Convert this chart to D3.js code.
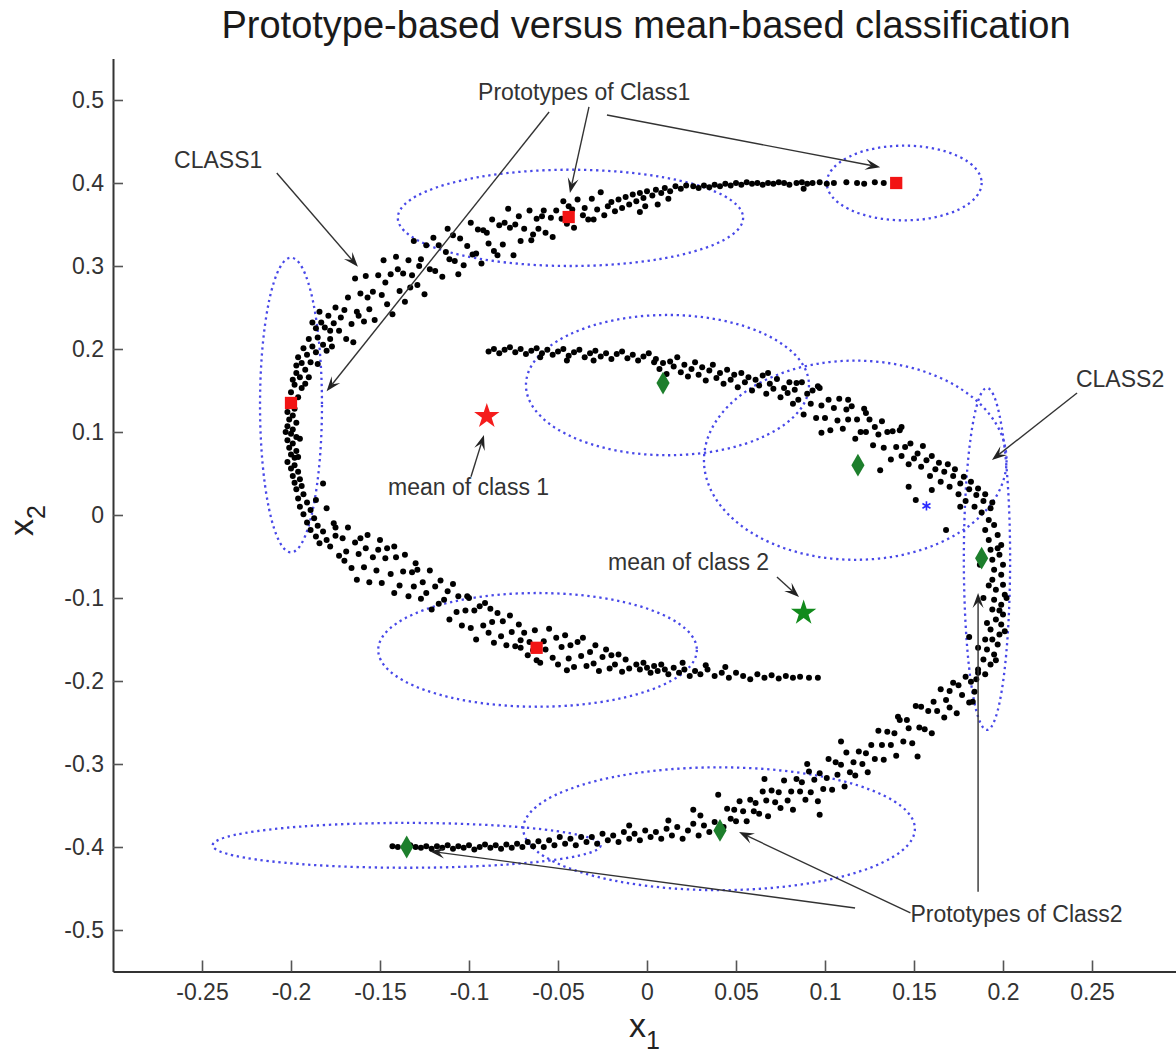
<!DOCTYPE html>
<html lang="en">
<head>
  <meta charset="UTF-8">
  <title>Prototype-based versus mean-based classification</title>
  <script src="https://d3js.org/d3.v7.min.js"></script>
  <style>
    html, body {
      margin: 0;
      padding: 0;
      background: #ffffff;
      font-family: 'Liberation Sans', Arial, sans-serif;
    }
    svg { display: block; }
    .tick text { font-size: 23px; fill: #333; }
    .note { font-size: 23px; fill: #333; }
  </style>
</head>
<body>
<svg id="chart" width="1176" height="1055"></svg>
<script>
  // axis ticks
  const xTicks = [-0.25, -0.2, -0.15, -0.1, -0.05, 0, 0.05, 0.1, 0.15, 0.2, 0.25];
  const xTickLabels = ["-0.25", "-0.2", "-0.15", "-0.1", "-0.05", "0", "0.05", "0.1", "0.15", "0.2", "0.25"];
  const yTicks = [-0.5, -0.4, -0.3, -0.2, -0.1, 0, 0.1, 0.2, 0.3, 0.4, 0.5];
  const yTickLabels = ["-0.5", "-0.4", "-0.3", "-0.2", "-0.1", "0", "0.1", "0.2", "0.3", "0.4", "0.5"];

  // CLASS1 samples
  const class1 = [
    [0.133,0.400],[0.128,0.401],[0.122,0.399],[0.118,0.400],[0.112,0.401],[0.105,0.400],[0.101,0.399],[0.097,0.401],
    [0.093,0.400],[0.090,0.399],[0.087,0.401],[0.084,0.400],[0.080,0.398],[0.077,0.400],[0.074,0.401],[0.071,0.399],
    [0.068,0.400],[0.065,0.398],[0.062,0.400],[0.059,0.399],[0.056,0.401],[0.053,0.398],[0.050,0.400],[0.047,0.397],
    [0.044,0.399],[0.041,0.396],[0.038,0.398],[0.035,0.395],[0.032,0.397],[0.029,0.394],[0.026,0.396],[0.088,0.393],
    [0.022,0.397],[0.019,0.393],[0.016,0.396],[0.013,0.390],[0.010,0.394],[0.008,0.388],[0.005,0.392],[0.003,0.385],
    [0.000,0.390],[-0.002,0.382],[-0.004,0.388],[-0.006,0.378],[-0.008,0.386],[-0.010,0.374],[-0.012,0.383],[-0.014,0.370],
    [-0.016,0.380],[-0.018,0.366],[-0.020,0.377],[-0.022,0.372],[-0.024,0.361],[-0.026,0.389],[-0.028,0.368],[-0.030,0.356],
    [-0.004,0.365],[0.006,0.374],[0.012,0.381],[-0.001,0.372],
    [-0.031,0.381],[-0.033,0.356],[-0.035,0.370],[-0.036,0.361],[-0.039,0.380],[-0.041,0.346],[-0.042,0.368],[-0.045,0.351],
    [-0.047,0.378],[-0.048,0.357],[-0.051,0.367],[-0.053,0.335],[-0.054,0.358],[-0.057,0.340],[-0.058,0.367],[-0.061,0.345],
    [-0.062,0.357],[-0.065,0.331],[-0.066,0.367],[-0.069,0.345],[-0.044,0.372],[-0.059,0.360],[-0.064,0.338],
    [-0.071,0.330],[-0.072,0.360],[-0.075,0.313],[-0.077,0.346],[-0.078,0.369],[-0.081,0.326],[-0.083,0.349],[-0.084,0.313],
    [-0.087,0.356],[-0.089,0.327],[-0.090,0.340],[-0.093,0.303],[-0.095,0.344],[-0.096,0.315],[-0.099,0.352],[-0.101,0.324],
    [-0.103,0.301],[-0.105,0.333],[-0.106,0.290],[-0.109,0.337],[-0.111,0.308],[-0.113,0.317],[-0.115,0.287],[-0.117,0.325],
    [-0.119,0.294],[-0.120,0.334],[-0.074,0.350],[-0.092,0.343],[-0.108,0.306],[-0.080,0.352],[-0.098,0.314],[-0.086,0.318],
    [-0.112,0.345],
    [-0.122,0.296],[-0.124,0.325],[-0.125,0.266],[-0.127,0.308],[-0.129,0.277],[-0.131,0.330],[-0.132,0.289],[-0.134,0.307],
    [-0.136,0.257],[-0.137,0.291],[-0.139,0.270],[-0.141,0.311],[-0.143,0.242],[-0.144,0.290],[-0.146,0.254],[-0.148,0.307],
    [-0.149,0.265],[-0.151,0.289],[-0.153,0.235],[-0.154,0.269],[-0.156,0.248],[-0.158,0.288],[-0.159,0.233],[-0.161,0.267],
    [-0.163,0.245],[-0.164,0.285],[-0.166,0.230],[-0.168,0.262],[-0.169,0.212],[-0.170,0.247],[-0.128,0.300],[-0.140,0.296],
    [-0.133,0.274],[-0.147,0.280],[-0.157,0.262],[-0.162,0.240],[-0.165,0.208],
    [-0.172,0.238],[-0.173,0.222],[-0.175,0.250],[-0.176,0.231],[-0.178,0.212],[-0.179,0.240],[-0.181,0.226],[-0.182,0.205],
    [-0.183,0.232],[-0.185,0.214],[-0.186,0.196],[-0.186,0.225],[-0.188,0.203],[-0.189,0.184],[-0.190,0.212],[-0.191,0.193],
    [-0.192,0.175],[-0.193,0.201],[-0.194,0.183],[-0.195,0.166],[-0.196,0.190],[-0.197,0.171],[-0.198,0.157],[-0.197,0.180],
    [-0.199,0.163],[-0.200,0.148],[-0.185,0.182],[-0.180,0.198],[-0.190,0.166],[-0.194,0.153],[-0.177,0.203],[-0.188,0.232],
    [-0.184,0.245],[-0.178,0.222],[-0.196,0.142],[-0.192,0.158],
    [-0.201,0.132],[-0.198,0.128],[-0.202,0.124],[-0.199,0.120],[-0.201,0.115],[-0.197,0.111],[-0.202,0.107],[-0.199,0.103],
    [-0.200,0.098],[-0.197,0.094],[-0.202,0.090],[-0.199,0.086],[-0.201,0.081],[-0.197,0.077],[-0.200,0.073],[-0.198,0.069],
    [-0.202,0.064],[-0.198,0.060],[-0.200,0.056],[-0.196,0.052],[-0.199,0.047],[-0.195,0.043],[-0.198,0.039],[-0.194,0.035],
    [-0.197,0.031],[-0.195,0.092],[-0.196,0.070],[-0.203,0.100],
    [-0.193,0.025],[-0.196,0.020],[-0.191,0.015],[-0.195,0.010],[-0.189,0.006],[-0.193,0.001],[-0.187,-0.004],[-0.191,-0.009],
    [-0.185,-0.013],[-0.189,-0.018],[-0.182,-0.020],[-0.186,-0.026],[-0.180,-0.030],[-0.184,-0.034],[-0.178,-0.038],[-0.182,0.038],
    [-0.186,0.018],[-0.180,0.008],[-0.176,-0.010],[-0.175,-0.025],
    [-0.175,-0.015],[-0.173,-0.049],[-0.171,-0.028],[-0.169,-0.044],[-0.168,-0.015],[-0.166,-0.064],[-0.164,-0.033],[-0.162,-0.047],
    [-0.161,-0.028],[-0.159,-0.063],[-0.157,-0.024],[-0.156,-0.081],[-0.154,-0.051],[-0.152,-0.067],[-0.151,-0.042],[-0.149,-0.082],
    [-0.147,-0.052],[-0.146,-0.040],[-0.144,-0.071],[-0.142,-0.094],[-0.141,-0.051],[-0.139,-0.085],[-0.137,-0.068],[-0.136,-0.048],
    [-0.134,-0.098],[-0.132,-0.069],[-0.131,-0.086],[-0.142,-0.038],[-0.163,-0.078],[-0.150,-0.030],[-0.170,-0.055],[-0.158,-0.040],
    [-0.129,-0.066],[-0.127,-0.101],[-0.126,-0.081],[-0.124,-0.094],[-0.122,-0.067],[-0.121,-0.114],[-0.119,-0.086],[-0.117,-0.107],
    [-0.116,-0.079],[-0.114,-0.102],[-0.112,-0.092],[-0.111,-0.126],[-0.109,-0.083],[-0.107,-0.117],[-0.106,-0.098],[-0.104,-0.133],
    [-0.102,-0.115],[-0.101,-0.098],[-0.099,-0.136],[-0.097,-0.115],[-0.096,-0.150],[-0.094,-0.110],[-0.092,-0.133],[-0.091,-0.106],
    [-0.089,-0.142],[-0.087,-0.129],[-0.086,-0.154],[-0.084,-0.118],[-0.082,-0.146],[-0.081,-0.128],[-0.079,-0.157],[-0.077,-0.121],
    [-0.076,-0.141],[-0.074,-0.158],[-0.072,-0.132],[-0.071,-0.151],[-0.130,-0.058],[-0.100,-0.100],[-0.088,-0.113],
    [-0.069,-0.142],[-0.067,-0.169],[-0.066,-0.153],[-0.064,-0.163],[-0.063,-0.139],[-0.060,-0.178],[-0.058,-0.152],[-0.057,-0.162],
    [-0.055,-0.137],[-0.053,-0.172],[-0.051,-0.148],[-0.050,-0.180],[-0.048,-0.159],[-0.046,-0.145],[-0.044,-0.173],[-0.043,-0.157],
    [-0.041,-0.183],[-0.039,-0.153],[-0.037,-0.170],[-0.036,-0.148],[-0.034,-0.182],[-0.032,-0.165],[-0.030,-0.179],[-0.029,-0.157],
    [-0.027,-0.188],[-0.025,-0.171],[-0.023,-0.162],[-0.021,-0.185],[-0.020,-0.169],[-0.018,-0.180],[-0.016,-0.168],[-0.014,-0.189],
    [-0.012,-0.174],[-0.010,-0.185],[-0.062,-0.175],[-0.045,-0.187],[-0.071,-0.160],
    [-0.006,-0.180],[-0.004,-0.186],[-0.002,-0.178],[0.000,-0.184],[0.002,-0.190],[0.004,-0.182],[0.006,-0.188],[0.008,-0.180],
    [0.010,-0.186],[0.012,-0.192],[0.015,-0.184],[0.018,-0.190],[0.021,-0.186],[0.024,-0.194],[0.027,-0.188],[0.030,-0.192],
    [0.034,-0.186],[0.038,-0.194],[0.042,-0.190],[0.046,-0.196],[0.050,-0.190],[0.054,-0.194],[0.058,-0.198],[0.062,-0.192],
    [0.066,-0.196],[0.070,-0.193],[0.074,-0.197],[0.078,-0.194],[0.082,-0.196],[0.086,-0.195],[0.091,-0.196],[0.096,-0.196],
    [0.020,-0.178],[0.033,-0.181],[0.044,-0.183]
  ];

  // CLASS2 samples
  const class2 = [
    [-0.089,0.197],[-0.086,0.200],[-0.083,0.195],[-0.080,0.199],[-0.077,0.202],[-0.074,0.196],[-0.071,0.200],[-0.068,0.194],
    [-0.065,0.198],[-0.062,0.201],[-0.059,0.195],[-0.056,0.199],[-0.053,0.193],[-0.050,0.197],[-0.047,0.200],[-0.044,0.192],
    [-0.041,0.196],[-0.038,0.199],[-0.035,0.190],[-0.032,0.195],[-0.029,0.198],[-0.026,0.191],[-0.023,0.195],[-0.020,0.188],
    [-0.017,0.194],[-0.014,0.197],[-0.011,0.189],[-0.008,0.193],[-0.005,0.186],[-0.002,0.191],[0.001,0.195],[0.004,0.184],
    [-0.060,0.190],[-0.045,0.186],[-0.030,0.186],
    [0.005,0.188],[0.007,0.176],[0.009,0.183],[0.011,0.170],[0.013,0.185],[0.015,0.179],[0.017,0.190],[0.019,0.172],
    [0.021,0.181],[0.023,0.167],[0.025,0.176],[0.027,0.184],[0.029,0.169],[0.031,0.178],[0.033,0.162],[0.035,0.174],
    [0.037,0.181],[0.039,0.165],[0.041,0.171],[0.043,0.158],[0.045,0.175],[0.047,0.163],[0.049,0.169],[0.051,0.154],
    [0.053,0.171],[0.055,0.160],[0.057,0.166],[0.059,0.150],[0.061,0.163],[0.063,0.156],[0.065,0.168],[0.067,0.146],
    [0.069,0.158],[0.071,0.152],[0.073,0.164],[0.075,0.142],[0.077,0.153],[0.079,0.147],
    [0.080,0.160],[0.082,0.134],[0.083,0.151],[0.085,0.139],[0.087,0.160],[0.088,0.121],[0.090,0.146],[0.092,0.134],
    [0.093,0.150],[0.095,0.117],[0.097,0.153],[0.098,0.132],[0.100,0.117],[0.102,0.139],[0.103,0.102],[0.105,0.129],
    [0.107,0.114],[0.108,0.140],[0.110,0.104],[0.112,0.127],[0.113,0.115],[0.115,0.131],[0.117,0.092],[0.118,0.115],
    [0.120,0.100],[0.122,0.128],[0.123,0.100],[0.125,0.115],[0.127,0.084],[0.128,0.106],[0.130,0.097],[0.132,0.113],
    [0.133,0.081],[0.135,0.100],[0.137,0.067],[0.138,0.101],[0.140,0.082],[0.142,0.102],[0.143,0.071],[0.145,0.082],
    [0.147,0.061],[0.148,0.086],[0.150,0.068],[0.098,0.099],[0.131,0.054],[0.096,0.155],[0.068,0.171],[0.084,0.159],
    [0.113,0.139],[0.123,0.123],[0.143,0.106],
    [0.152,0.074],[0.154,0.058],[0.155,0.083],[0.157,0.066],[0.159,0.047],[0.160,0.071],[0.162,0.055],[0.164,0.063],
    [0.165,0.040],[0.167,0.052],[0.169,0.061],[0.170,0.034],[0.172,0.047],[0.173,0.055],[0.175,0.025],[0.176,0.038],
    [0.178,0.046],[0.179,0.017],[0.181,0.031],[0.182,0.040],[0.184,0.010],[0.185,0.024],[0.186,0.032],[0.188,0.003],
    [0.189,0.017],[0.190,0.025],[0.192,-0.006],[0.193,0.008],[0.194,0.015],[0.168,-0.018],[0.176,0.010],[0.151,0.018],
    [0.160,0.030],[0.147,0.034],
    [0.195,-0.012],[0.190,-0.018],[0.197,-0.024],[0.192,-0.030],[0.199,-0.036],[0.193,-0.042],[0.198,-0.048],[0.194,-0.054],
    [0.200,-0.060],[0.195,-0.066],[0.199,-0.072],[0.194,-0.078],[0.200,-0.084],[0.196,-0.090],[0.201,-0.096],[0.195,-0.102],
    [0.199,-0.108],[0.194,-0.114],[0.200,-0.120],[0.196,-0.126],[0.199,-0.132],[0.193,-0.138],[0.198,-0.144],[0.194,-0.150],
    [0.197,-0.156],[0.191,-0.162],[0.195,-0.168],[0.189,-0.174],[0.193,-0.180],[0.186,-0.186],[0.190,-0.192],[0.185,-0.198],
    [0.187,-0.060],[0.189,-0.100],[0.191,-0.130],[0.186,-0.160],[0.202,-0.100],[0.201,-0.140],[0.181,-0.147],[0.197,-0.040],
    [0.192,-0.085],[0.198,-0.115],[0.196,-0.175],[0.190,-0.150],
    [0.186,-0.190],[0.184,-0.213],[0.182,-0.201],[0.181,-0.226],[0.179,-0.195],[0.177,-0.217],[0.175,-0.205],[0.174,-0.239],
    [0.172,-0.202],[0.170,-0.232],[0.168,-0.223],[0.167,-0.244],[0.165,-0.210],[0.163,-0.236],[0.161,-0.225],[0.160,-0.263],
    [0.158,-0.236],[0.156,-0.258],[0.154,-0.231],[0.153,-0.256],[0.151,-0.230],[0.149,-0.275],[0.147,-0.257],[0.146,-0.247],
    [0.144,-0.273],[0.142,-0.247],[0.140,-0.290],[0.139,-0.263],[0.137,-0.277],[0.135,-0.261],[0.133,-0.295],[0.132,-0.277],
    [0.130,-0.260],[0.128,-0.294],[0.126,-0.277],[0.124,-0.310],[0.123,-0.287],[0.121,-0.300],[0.183,-0.225],[0.141,-0.243],
    [0.170,-0.212],[0.152,-0.291],
    [0.119,-0.285],[0.117,-0.314],[0.116,-0.298],[0.114,-0.310],[0.112,-0.286],[0.111,-0.327],[0.109,-0.301],[0.107,-0.313],
    [0.106,-0.298],[0.104,-0.331],[0.102,-0.294],[0.101,-0.317],[0.099,-0.330],[0.097,-0.311],[0.096,-0.345],[0.094,-0.319],
    [0.092,-0.334],[0.091,-0.309],[0.089,-0.343],[0.087,-0.322],[0.086,-0.333],[0.084,-0.318],[0.082,-0.355],[0.081,-0.333],
    [0.079,-0.344],[0.077,-0.320],[0.075,-0.353],[0.074,-0.334],[0.072,-0.346],[0.070,-0.332],[0.068,-0.363],[0.067,-0.344],
    [0.065,-0.333],[0.063,-0.360],[0.061,-0.347],[0.060,-0.357],[0.058,-0.343],[0.056,-0.369],[0.054,-0.357],[0.052,-0.345],
    [0.050,-0.369],[0.049,-0.355],[0.047,-0.366],[0.045,-0.354],[0.043,-0.376],[0.109,-0.273],[0.097,-0.361],[0.040,-0.337],
    [0.026,-0.355],[0.090,-0.300],[0.066,-0.318],
    [0.038,-0.370],[0.035,-0.382],[0.032,-0.374],[0.029,-0.386],[0.026,-0.372],[0.023,-0.380],[0.020,-0.390],[0.017,-0.376],
    [0.014,-0.386],[0.011,-0.378],[0.008,-0.390],[0.005,-0.382],[0.002,-0.388],[-0.001,-0.380],[-0.004,-0.392],[-0.007,-0.384],
    [-0.010,-0.390],[-0.013,-0.382],[-0.016,-0.394],[-0.019,-0.386],[-0.022,-0.392],[-0.025,-0.384],[-0.028,-0.396],[-0.031,-0.388],
    [-0.034,-0.394],[-0.037,-0.388],[-0.040,-0.398],[-0.043,-0.390],[-0.046,-0.396],[-0.049,-0.388],[-0.052,-0.398],[-0.055,-0.392],
    [-0.058,-0.400],[-0.061,-0.393],[-0.064,-0.399],[-0.067,-0.394],[-0.070,-0.400],[0.012,-0.368],[-0.010,-0.374],[0.030,-0.362],
    [-0.073,-0.396],[-0.076,-0.401],[-0.079,-0.397],[-0.082,-0.402],[-0.085,-0.398],[-0.088,-0.401],[-0.091,-0.397],[-0.094,-0.400],
    [-0.097,-0.403],[-0.100,-0.398],[-0.103,-0.401],[-0.106,-0.399],[-0.109,-0.402],[-0.112,-0.398],[-0.115,-0.401],[-0.118,-0.399],
    [-0.121,-0.402],[-0.124,-0.399],[-0.127,-0.401],[-0.130,-0.400],[-0.133,-0.398],[-0.140,-0.400],[-0.143,-0.399]
  ];

  // prototypes and means
  const protos1 = [[0.140, 0.400], [-0.044, 0.359], [-0.200, 0.135], [-0.062, -0.160]];
  const protos2 = [[0.009, 0.159], [0.1185, 0.060], [0.188, -0.052], [0.041, -0.380], [-0.135, -0.400]];
  const mean1 = [-0.090, 0.119];
  const mean2 = [0.088, -0.118];
  const blueStar = [0.157, 0.011];

  // ellipses: cx, cy, rx, ry (data units)
  const ellipseCx = [0.1445, -0.043, -0.200, -0.0615, 0.0115, 0.117, 0.191, 0.0405, -0.135];
  const ellipseCy = [0.400, 0.358, 0.1325, -0.1625, 0.1565, 0.066, -0.053, -0.378, -0.398];
  const ellipseRx = [0.0435, 0.097, 0.0174, 0.0895, 0.0795, 0.085, 0.0130, 0.110, 0.109];
  const ellipseRy = [0.045, 0.058, 0.1775, 0.0685, 0.0845, 0.120, 0.206, 0.074, 0.027];

  // annotation texts (anchor at left baseline, data units)
  const noteText = ["Prototypes of Class1", "CLASS1", "mean of class 1", "mean of class 2", "CLASS2", "Prototypes of Class2"];
  const noteX = [-0.0949, -0.2657, -0.1455, -0.0219, 0.241, 0.148];
  const noteY = [0.500, 0.418, 0.024, -0.066, 0.154, -0.490];

  // arrows: from -> tip (data units)
  const arrowFrom = [[-0.055, 0.4855], [-0.0326, 0.4916], [-0.0225, 0.482], [-0.208, 0.412], [-0.0989, 0.046],
                     [0.073, -0.0747], [0.2416, 0.147], [0.148, -0.4795], [0.186, -0.454], [0.1169, -0.4735]];
  const arrowTo = [[-0.180, 0.149], [-0.0433, 0.388], [0.131, 0.419], [-0.1624, 0.299], [-0.0916, 0.0964],
                   [0.0854, -0.0988], [0.1938, 0.0663], [0.0517, -0.382], [0.186, -0.094], [-0.122, -0.405]];

  const svg = d3.select("#chart");

  const x = d3.scaleLinear().domain([-0.3, 0.3]).range([113, 1181]);
  const y = d3.scaleLinear().domain([-0.55, 0.55]).range([971.5, 58.5]);

  // title
  svg.append("text")
    .attr("x", 646).attr("y", 38)
    .attr("text-anchor", "middle")
    .style("font-size", "38px").style("fill", "#1a1a1a")
    .text("Prototype-based versus mean-based classification");

  // ellipses
  const ell = svg.append("g");
  ellipseCx.forEach((cx, i) => {
    ell.append("ellipse")
      .attr("cx", x(cx)).attr("cy", y(ellipseCy[i]))
      .attr("rx", x(cx + ellipseRx[i]) - x(cx))
      .attr("ry", y(ellipseCy[i] - ellipseRy[i]) - y(ellipseCy[i]))
      .attr("fill", "none")
      .attr("stroke", "#4848e8")
      .attr("stroke-width", 2.3)
      .attr("stroke-dasharray", "2.3 3.7");
  });

  // samples
  const pts = svg.append("g");
  pts.selectAll("circle.c1").data(class1).join("circle")
    .attr("class", "c1")
    .attr("cx", d => x(d[0])).attr("cy", d => y(d[1])).attr("r", 3)
    .attr("fill", "#000");
  pts.selectAll("circle.c2").data(class2).join("circle")
    .attr("class", "c2")
    .attr("cx", d => x(d[0])).attr("cy", d => y(d[1])).attr("r", 3)
    .attr("fill", "#000");

  // arrows
  const arr = svg.append("g");
  const headL = 15, headW = 11;
  arrowFrom.forEach((f, i) => {
    const x1 = x(f[0]), y1 = y(f[1]);
    const x2 = x(arrowTo[i][0]), y2 = y(arrowTo[i][1]);
    const a = Math.atan2(y2 - y1, x2 - x1);
    const ca = Math.cos(a), sa = Math.sin(a);
    arr.append("line")
      .attr("x1", x1).attr("y1", y1)
      .attr("x2", x2 - ca * headL * 0.6).attr("y2", y2 - sa * headL * 0.6)
      .attr("stroke", "#333").attr("stroke-width", 1.4);
    const bx = x2 - ca * headL, by = y2 - sa * headL;
    const nx = x2 - ca * headL * 0.6, ny = y2 - sa * headL * 0.6;
    const p = [
      [x2, y2],
      [bx - sa * headW / 2, by + ca * headW / 2],
      [nx, ny],
      [bx + sa * headW / 2, by - ca * headW / 2]
    ];
    arr.append("path")
      .attr("d", "M" + p.map(q => q.join(",")).join("L") + "Z")
      .attr("fill", "#222");
  });

  // prototype markers
  svg.append("g").selectAll("path").data(protos1).join("path")
    .attr("transform", d => `translate(${x(d[0])},${y(d[1])})`)
    .attr("d", d3.symbol().type(d3.symbolSquare).size(150))
    .attr("fill", "#f21414");
  svg.append("g").selectAll("path").data(protos2).join("path")
    .attr("transform", d => `translate(${x(d[0])},${y(d[1])})`)
    .attr("d", d3.symbol().type(d3.symbolDiamond).size(150))
    .attr("fill", "#1d7f2c");

  // means
  svg.append("path")
    .attr("transform", `translate(${x(mean1[0])},${y(mean1[1])})`)
    .attr("d", d3.symbol().type(d3.symbolStar).size(200))
    .attr("fill", "#f51c1c");
  svg.append("path")
    .attr("transform", `translate(${x(mean2[0])},${y(mean2[1])})`)
    .attr("d", d3.symbol().type(d3.symbolStar).size(200))
    .attr("fill", "#128a1c");
  svg.append("path")
    .attr("transform", `translate(${x(blueStar[0])},${y(blueStar[1])})`)
    .attr("d", d3.symbol().type(d3.symbolAsterisk).size(60))
    .attr("fill", "none").attr("stroke", "#2a2aff").attr("stroke-width", 1.6);

  // annotation labels
  svg.append("g").selectAll("text").data(noteText).join("text")
    .attr("class", "note")
    .attr("x", (d, i) => x(noteX[i])).attr("y", (d, i) => y(noteY[i]))
    .text(d => d);

  // axes
  const xAxis = d3.axisBottom(x)
    .tickValues(xTicks).tickFormat((d, i) => xTickLabels[i])
    .tickSizeInner(-11).tickSizeOuter(0).tickPadding(12);
  const yAxis = d3.axisLeft(y)
    .tickValues(yTicks).tickFormat((d, i) => yTickLabels[i])
    .tickSizeInner(-10).tickSizeOuter(0).tickPadding(9);

  const gx = svg.append("g").attr("transform", "translate(0,971.5)").call(xAxis);
  const gy = svg.append("g").attr("transform", "translate(113,0)").call(yAxis);
  [gx, gy].forEach(g => {
    g.select(".domain").attr("stroke", "#333").attr("stroke-width", 2);
    g.selectAll(".tick line").attr("stroke", "#555").attr("stroke-width", 1.6);
    g.selectAll(".tick text").style("font-family", "'Liberation Sans', Arial, sans-serif");
  });

  // axis labels
  const xl = svg.append("text").attr("x", 629).attr("y", 1037).style("fill", "#222");
  xl.append("tspan").style("font-size", "34px").text("x");
  xl.append("tspan").style("font-size", "25px").attr("dy", 12).text("1");

  const yl = svg.append("text").attr("transform", "translate(33,536) rotate(-90)").style("fill", "#222");
  yl.append("tspan").style("font-size", "34px").text("x");
  yl.append("tspan").style("font-size", "25px").attr("dy", 12).text("2");
</script>
</body>
</html>
